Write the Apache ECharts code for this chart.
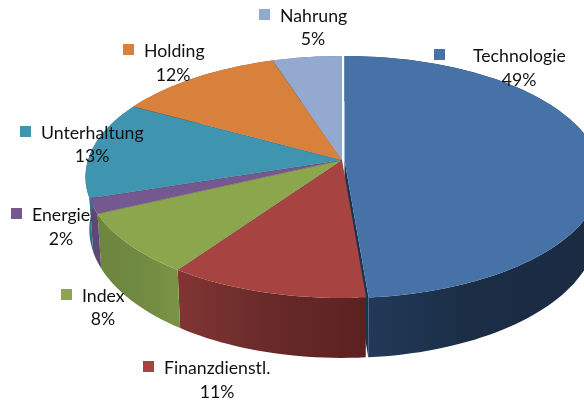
<!DOCTYPE html>
<html>
<head>
<meta charset="utf-8">
<style>
html, body { margin: 0; padding: 0; background: #fff; }
#chart { width: 584px; height: 401px; }
</style>
<script src="https://cdn.jsdelivr.net/npm/echarts@6/dist/echarts.min.js"></script>
</head>
<body>
<div id="chart"></div>
<script>
// data, clockwise from 12 o'clock
const categories = ['Technologie', 'Finanzdienstl.', 'Index', 'Energie', 'Unterhaltung', 'Holding', 'Nahrung']
const shares = [48.7, 11, 8.3, 2, 13, 12, 5]

// colours
const topColors = ['#4672a8', '#a74442', '#8ba64c', '#75588f', '#3f95af', '#d7813c', '#94a9d0']
const wallColors = [
    ['#233c5e', '#1a2d44', '#1a2b42'],
    ['#813533', '#672a29', '#5b2120'],
    ['#6d853e', '#718a41', '#7a9446'],
    ['#5a4371', '#5f4776', '#5f4776'],
    ['#2f7186', '#2f7186', '#2f7186'],
    ['#a3602c', '#a3602c', '#a3602c'],
    ['#6f809e', '#6f809e', '#6f809e'],
]

// where each label sits: square left/top, name left/middle, percent centre/middle
const labelPos = [
    [434, 49, 473, 56, 519, 80],
    [143, 361, 164, 368, 217, 392],
    [61, 289, 82, 296, 103, 319],
    [11, 208, 32, 215, 61, 239],
    [20, 126, 41, 133, 92, 156],
    [123, 44, 144, 51, 173, 75],
    [259, 9, 280, 16, 313, 39],
]

// pie geometry (flat circle seen in perspective)
const cx = 342, cy = 160, rx = 254, ry = 118.6, persp = 0.1405
const depth = 51.5, wallShrink = 0.985
const explodeX = 2.5 // Technologie is pulled out a little
const total = shares.reduce((a, b) => a + b, 0)

function project(angle, r, dx) {
    let u = Math.sin(angle) * r
    let v = -Math.cos(angle) * r
    let s = 1 / (1 - persp * v)
    return { x: cx + dx + rx * u * s, y: cy + ry * v * s, s: s }
}
function lower(p, dx) {
    return [cx + dx + (p.x - cx - dx) * wallShrink, p.y + depth * p.s]
}
function sliceAngles(i) {
    let before = shares.slice(0, i).reduce((a, b) => a + b, 0)
    return [before / total * Math.PI * 2, (before + shares[i]) / total * Math.PI * 2]
}
function rim(i) {
    let [a0, a1] = sliceAngles(i)
    let dx = i === 0 ? explodeX : 0
    let n = Math.ceil((a1 - a0) / 0.03)
    let pts = []
    for (let k = 0; k <= n; k++) {
        pts.push(project(a0 + (a1 - a0) * k / n, 1, dx))
    }
    return pts
}

function renderWall(params) {
    let i = params.dataIndex
    let dx = i === 0 ? explodeX : 0
    let pts = rim(i)
    let band = pts.map(p => [p.x, p.y]).concat(pts.slice().reverse().map(p => lower(p, dx)))
    let c = wallColors[i]
    let children = []
    if (i === 0) {
        // inner face of the pulled out slice, shows in the gap next to Finanzdienstl.
        let apex = project(0, 0, dx)
        let end = pts[pts.length - 1]
        children.push({
            type: 'polygon',
            shape: { points: [[apex.x, apex.y], [end.x, end.y], lower(end, dx), lower(apex, dx)] },
            style: { fill: '#1b3350' }
        })
    }
    children.push({
        type: 'polygon',
        shape: { points: band },
        style: {
            fill: new echarts.graphic.LinearGradient(0, 0, 1, 0, [
                { offset: 0, color: c[0] },
                { offset: 0.5, color: c[1] },
                { offset: 1, color: c[2] }
            ])
        }
    })
    return { type: 'group', children: children }
}

function renderTop(params) {
    let i = params.dataIndex
    let dx = i === 0 ? explodeX : 0
    let pts = rim(i)
    let apex = project(0, 0, dx)
    let last = pts[pts.length - 1]
    let children = [{
        type: 'polygon',
        shape: { points: [[apex.x, apex.y]].concat(pts.map(p => [p.x, p.y])) },
        style: { fill: topColors[i] }
    }]
    // dark seam between touching slices, none around the pulled out one
    if (i > 0 && i < shares.length - 1) {
        children.push({
            type: 'line',
            shape: { x1: apex.x, y1: apex.y, x2: last.x, y2: last.y },
            style: { stroke: 'rgba(50,40,40,0.35)', lineWidth: 1 }
        })
    }
    return { type: 'group', children: children }
}

function renderLabel(params) {
    let i = params.dataIndex
    let p = labelPos[i]
    let font = '17.7px Lato, sans-serif'
    return {
        type: 'group',
        children: [
            { type: 'rect', shape: { x: p[0], y: p[1], width: 11, height: 11 }, style: { fill: topColors[i] } },
            {
                type: 'text',
                style: { x: p[2], y: p[3], text: categories[i], font: font, fill: '#111', textAlign: 'left', textVerticalAlign: 'middle' }
            },
            {
                type: 'text',
                style: { x: p[4], y: p[5], text: Math.round(shares[i]) + '%', font: font, fill: '#111', textAlign: 'center', textVerticalAlign: 'middle' }
            }
        ]
    }
}

let myChart = echarts.init(document.getElementById('chart'))
myChart.setOption({
    animation: false,
    backgroundColor: '#fff',
    series: [
        { type: 'custom', coordinateSystem: 'none', silent: true, z: 1, data: shares, renderItem: renderWall },
        { type: 'custom', coordinateSystem: 'none', silent: true, z: 2, data: shares, renderItem: renderTop },
        { type: 'custom', coordinateSystem: 'none', silent: true, z: 3, data: shares, renderItem: renderLabel }
    ]
})
</script>
</body>
</html>
